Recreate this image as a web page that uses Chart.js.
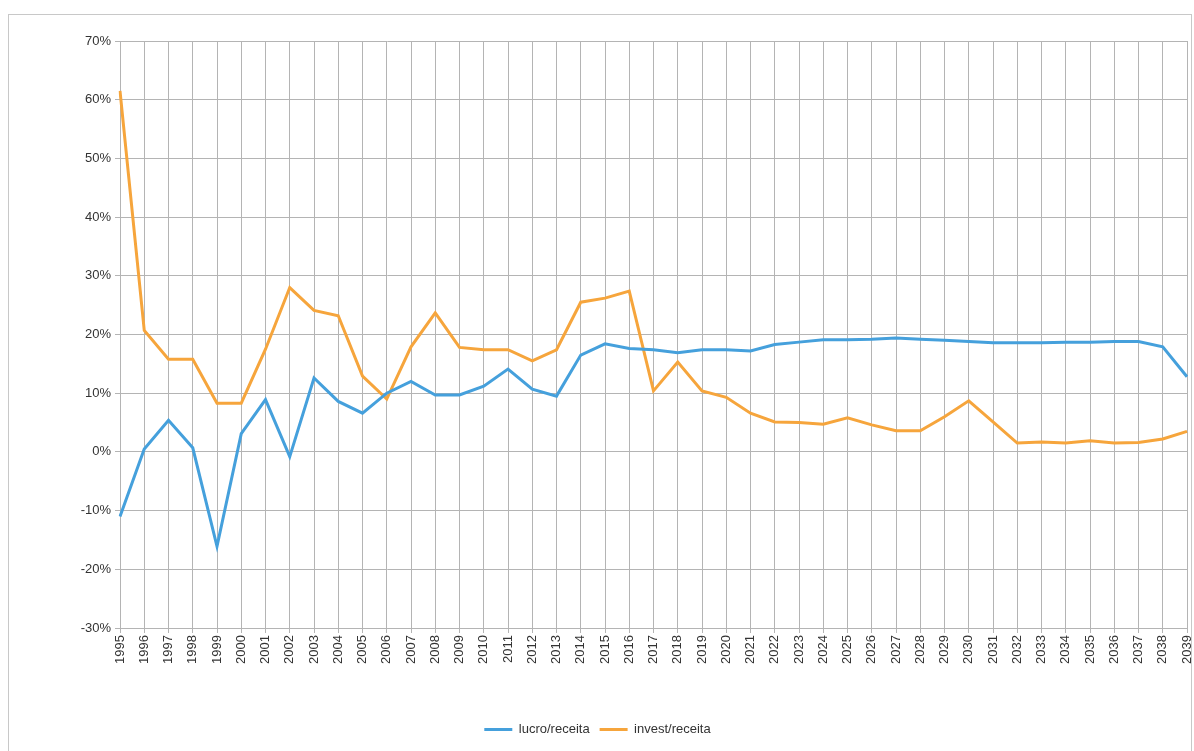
<!DOCTYPE html>
<html>
<head>
<meta charset="utf-8">
<script src="https://cdn.jsdelivr.net/npm/chart.js@4/dist/chart.umd.min.js"></script>
<style>
  html, body { margin: 0; padding: 0; background: #ffffff; }
  #wrap { width: 1194px; height: 751px; position: relative; }
</style>
</head>
<body>
<div id="wrap"><canvas id="c" width="1194" height="751"></canvas></div>
<script>
// Years on the horizontal axis
const years = [
  '1995','1996','1997','1998','1999','2000','2001','2002','2003','2004',
  '2005','2006','2007','2008','2009','2010','2011','2012','2013','2014',
  '2015','2016','2017','2018','2019','2020','2021','2022','2023','2024',
  '2025','2026','2027','2028','2029','2030','2031','2032','2033','2034',
  '2035','2036','2037','2038','2039'
];

// Profit / revenue, in percent
const lucroReceita = [
  -11, 0.5, 5.4, 0.7, -16.1, 3.1, 8.9, -0.8, 12.6, 8.6,
  6.6, 10, 12, 9.7, 9.7, 11.2, 14.1, 10.7, 9.5, 16.5,
  18.4, 17.6, 17.4, 16.9, 17.4, 17.4, 17.2, 18.3, 18.7, 19.1,
  19.1, 19.2, 19.4, 19.2, 19, 18.8, 18.6, 18.6, 18.6, 18.7,
  18.7, 18.8, 18.8, 17.9, 12.8
];

// Investment / revenue, in percent
const investReceita = [
  61.5, 20.7, 15.8, 15.8, 8.3, 8.3, 17.5, 28, 24.1, 23.2,
  12.9, 9, 17.9, 23.7, 17.8, 17.4, 17.4, 15.5, 17.4, 25.5,
  26.2, 27.4, 10.4, 15.3, 10.4, 9.3, 6.6, 5.1, 5, 4.7,
  5.8, 4.6, 3.6, 3.6, 6, 8.7, 5.1, 1.5, 1.7, 1.5,
  1.9, 1.5, 1.6, 2.2, 3.5
];

// Value axis ticks
const yMin = -30;
const yMax = 70;
const yStep = 10;

const FONT = "'Liberation Sans Narrow', 'Liberation Sans', 'DejaVu Sans Condensed', sans-serif";
const GRID = '#b4b4b4';

// Thin frame round the whole chart
const framePlugin = {
  id: 'frame',
  beforeDraw(chart) {
    const ctx = chart.ctx;
    ctx.save();
    ctx.fillStyle = '#ffffff';
    ctx.fillRect(0, 0, chart.width, chart.height);
    ctx.strokeStyle = '#c8c8c8';
    ctx.lineWidth = 1;
    ctx.strokeRect(8.5, 14.5, chart.width - 11, chart.height - 14);
    ctx.restore();
  }
};

new Chart(document.getElementById('c'), {
  type: 'line',
  data: {
    labels: years,
    datasets: [
      {
        label: 'lucro/receita',
        data: lucroReceita,
        borderColor: '#45a0dc',
        backgroundColor: '#45a0dc',
        borderWidth: 3,
        pointRadius: 0,
        tension: 0,
        fill: false
      },
      {
        label: 'invest/receita',
        data: investReceita,
        borderColor: '#f6a53c',
        backgroundColor: '#f6a53c',
        borderWidth: 3,
        pointRadius: 0,
        tension: 0,
        fill: false
      }
    ]
  },
  options: {
    responsive: false,
    animation: false,
    devicePixelRatio: 1,
    layout: { padding: { left: 8, right: 7, top: 41, bottom: 5 } },
    plugins: {
      tooltip: { enabled: false },
      legend: {
        position: 'bottom',
        labels: {
          usePointStyle: true,
          pointStyle: 'line',
          pointStyleWidth: 28,
          boxHeight: 3,
          color: '#333333',
          font: { family: FONT, size: 13 },
          padding: 10
        }
      }
    },
    scales: {
      x: {
        offset: false,
        afterFit(scale) {
          scale.height = 85;
          scale.paddingLeft = 0;
          scale.paddingRight = 0;
        },
        grid: {
          display: true,
          color: GRID,
          lineWidth: 1,
          drawTicks: true,
          tickLength: 5
        },
        border: { display: true, color: GRID },
        ticks: {
          autoSkip: false,
          minRotation: 90,
          maxRotation: 90,
          color: '#333333',
          font: { family: FONT, size: 13 },
          padding: 2
        }
      },
      y: {
        min: yMin,
        max: yMax,
        afterFit(scale) { scale.width = 112; },
        grid: {
          color: GRID,
          lineWidth: 1,
          drawTicks: true,
          tickLength: 5
        },
        border: { display: true, color: GRID },
        ticks: {
          stepSize: yStep,
          color: '#333333',
          font: { family: FONT, size: 13 },
          padding: 4,
          callback: v => v + '%'
        }
      }
    }
  },
  plugins: [framePlugin]
});
</script>
</body>
</html>
